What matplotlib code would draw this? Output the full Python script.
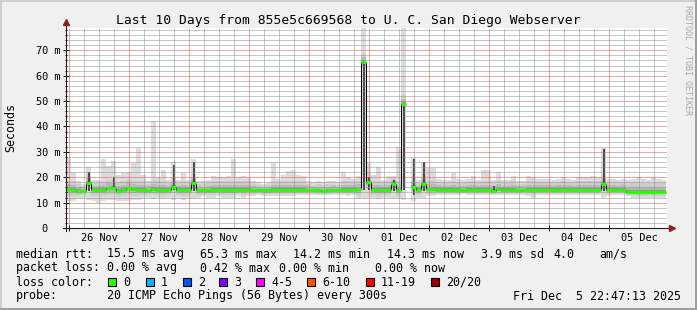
import numpy as np
import matplotlib
matplotlib.use("Agg")
import matplotlib.pyplot as plt
from matplotlib.patches import Rectangle
from matplotlib.transforms import blended_transform_factory

W, H = 697, 310
plt.rcParams["font.family"] = "DejaVu Sans Mono"

# --- data: 2-hour bins from the graph start (25 Nov 22:47) to the end (5 Dec 22:47) ---
BIN_H = 2
first_midnight = 1.22          # hours from graph start to 26 Nov 00:00
day_labels = ["26 Nov", "27 Nov", "28 Nov", "29 Nov", "30 Nov",
              "01 Dec", "02 Dec", "03 Dec", "04 Dec", "05 Dec"]
nan = float("nan")

# smoke top (slowest ping), ms
top = [27.5, 22, 18.5, 17.5, 24, 19, 19, 27, 24.5, 26.5, 21, 22,
       22, 25.5, 31.5, 21, 18.5, 42, 20, 23, 19, 26, 19, 21.5,
       19, 27, 18.5, 18.5, 19, 20.5, 20, 20, 20.5, 27, 20, 20.5,
       20, 18.5, 18, 17.5, 18, 26, 19.5, 21, 22.5, 23, 21, 20.5,
       18.5, 18, 18.5, 18, 18.5, 18.5, 18, 22, 20, 19.5, 20.5, 85,
       25.5, 21, 24, 19, 20.5, 20.5, 32, 85, nan, 27.5, 19, 26,
       23.5, 23.5, 19.5, 19, 19, 21.5, 19.5, 19, 19.5, 20.5, 19, 23,
       23, 19, 22, 19, 19, 20.5, 18.5, 18.5, 20.5, 20, 19.5, 19.5,
       19.5, 19, 19.5, 20, 19.5, 19, 20, 20, 20, 20.5, 20, 31.5,
       19.5, 19.5, 19, 19.5, 19, 19.5, 20, 19.5, 19, 20, 19.5, 19]

# smoke bottom (fastest ping), ms
bot = [10.5, 10.5, 11.5, 12, 11, 10.5, 10, 10.5, 11, 11, 10.5, 10.5,
       10.5, 11, 11, 12, 12, 11.5, 12, 11.5, 12, 11, 12, 11,
       12, 11.5, 12, 12.5, 12, 12, 12.5, 12, 12, 12, 12.5, 12,
       12.5, 12.5, 13, 12.5, 12.5, 12.5, 12.5, 12.5, 12.5, 12.5, 13, 13,
       13, 13, 13, 13, 13, 13, 13, 13, 12.5, 13, 11.5, 12,
       12, 12, 11.5, 12, 12, 11.5, 11.5, 11, nan, 10.5, 12, 12,
       12.5, 12.5, 13, 13, 13, 13, 13, 13.5, 13, 13, 13, 13,
       13, 13, 13, 13, 13, 13, 13, 13, 12.5, 12, 13, 13,
       13, 13, 13, 13, 13, 13, 13, 13, 13, 13, 13, 12,
       12.5, 13, 13, 13, 12.5, 12, 12, 12, 11.8, 12, 12, 12]

# median rtt, ms
med = [15.2, 15.0, 14.6, 14.7, 17.8, 15.0, 15.0, 15.0, 15.6, 15.7, 14.7, 15.0,
       15.6, 15.2, 15.0, 15.0, 15.0, 15.3, 15.0, 15.0, 15.0, 16.3, 15.0, 15.0,
       15.0, 17.7, 15.0, 14.9, 14.9, 14.9, 15.0, 15.0, 15.0, 15.0, 15.0, 15.0,
       15.0, 15.0, 15.0, 14.9, 14.9, 15.0, 15.0, 15.0, 15.0, 15.0, 15.0, 15.0,
       15.0, 15.0, 14.9, 14.6, 14.9, 15.0, 15.0, 15.0, 15.0, 15.0, 15.2, 65.3,
       18.0, 15.0, 15.0, 15.0, 15.0, 17.3, 15.0, 49.0, nan, 16.3, 15.0, 17.3,
       15.2, 15.4, 15.0, 15.0, 15.0, 15.0, 14.9, 14.9, 15.0, 15.0, 15.0, 15.0,
       15.0, 14.6, 15.4, 15.0, 15.0, 15.0, 15.0, 15.0, 15.0, 15.0, 15.0, 15.0,
       15.0, 15.0, 15.0, 15.0, 15.0, 15.0, 15.0, 15.0, 15.0, 15.0, 15.0, 17.3,
       15.0, 15.0, 15.0, 15.0, 14.3, 14.3, 14.3, 14.3, 14.3, 14.3, 14.3, 14.3]

# dense (dark) smoke at the jumps
spike_bin = [4, 9, 21, 25, 59, 60, 65, 67, 69, 71, 85, 107]
spike_lo = [14.5, 15, 15, 14.5, 15, 15, 14.5, 15, 13, 14.5, 14, 14.5]
spike_hi = [22, 20, 25, 26, 65, 20, 19, 49, 27, 26, 16.5, 31]

loss_labels = ["0", "1", "2", "3", "4-5", "6-10", "11-19", "20/20"]
loss_colors = ["#26ff00", "#00b8ff", "#0059ff", "#7e00ff",
               "#ff00ff", "#ff5500", "#ff0000", "#a10000"]

# --- figure ---
fig = plt.figure(figsize=(W / 100, H / 100), dpi=100, facecolor="#f0f0f0")
ax = fig.add_axes([66 / W, 1 - 228 / H, 601 / W, 200 / H])
ax.set_facecolor("white")
ax.set_xlim(0, 240.4)
ax.set_ylim(0, 78.8)
for s in ax.spines.values():
    s.set_visible(False)

med_a = np.array(med, float)
top_a = np.array(top, float)
bot_a = np.array(bot, float)
edges = np.arange(len(med_a)) * BIN_H

# smoke: light outer band, darker towards the median
ax.bar(edges, top_a - bot_a, bottom=bot_a, width=BIN_H, align="edge",
       color="#dcdcdc", linewidth=0, antialiased=False, zorder=1)
cap_top = np.minimum(top_a, med_a + 5)
cap_bot = np.maximum(bot_a, med_a - 3.5)
for f, c in [(0.7, "#cdcdcd"), (0.4, "#b8b8b8"), (0.15, "#959595")]:
    lo = med_a - (med_a - cap_bot) * f
    hi = med_a + (cap_top - med_a) * f
    ax.bar(edges, hi - lo, bottom=lo, width=BIN_H, align="edge",
           color=c, linewidth=0, antialiased=False, zorder=1.1)
sb = np.array(spike_bin) * BIN_H + BIN_H / 2
ax.bar(sb, np.array(spike_hi) - np.array(spike_lo), bottom=spike_lo, width=0.8,
       color="#4a4a4a", linewidth=0, antialiased=False, zorder=1.2)

# median line: black steps, green (no loss) segments
for i in range(1, len(med_a)):
    a, b = med_a[i - 1], med_a[i]
    if np.isfinite(a) and np.isfinite(b) and abs(a - b) > 0.3:
        ax.vlines(edges[i], a, b, color="black", lw=0.72, zorder=3)
ax.hlines(med_a, edges, edges + BIN_H, colors=loss_colors[0], lw=2.2, zorder=4)

# grid
midnights = [first_midnight + 24 * k for k in range(10)]
six_h = [first_midnight + 6 * k for k in range(40) if k % 4]
ax.set_xticks(midnights)
ax.set_xticks(six_h, minor=True)
ax.set_yticks(range(0, 80, 10))
ax.set_yticks([v for v in range(2, 79, 2) if v % 10], minor=True)
ax.set_axisbelow("line")
ax.grid(which="minor", color=(0.56, 0.56, 0.56, 0.3), lw=0.72, ls=(0, (1, 1)))
ax.grid(which="major", color=(0.87, 0.31, 0.31, 0.4), lw=0.72, ls=(0, (1, 1)))
ax.tick_params(which="both", labelbottom=False, labelleft=False, color="#1f1f1f", width=0.72)
ax.tick_params(axis="x", which="major", direction="inout", length=4)
ax.tick_params(axis="x", which="minor", length=0)
ax.tick_params(axis="y", which="major", direction="inout", length=4)
ax.tick_params(axis="y", which="minor", direction="inout", length=2)

# axis lines with arrows
ax.plot([-1.2, 241.6], [0, 0], color="#1f1f1f", lw=0.8, clip_on=False, zorder=5)
ax.plot([0, 0], [-1.2, 80.6], color="#1f1f1f", lw=0.8, clip_on=False, zorder=5)
ax.plot([242.2], [0], marker=">", ms=4.5, color="#8f1f1f", clip_on=False, zorder=6)
ax.plot([0], [81.0], marker="^", ms=4.5, color="#8f1f1f", clip_on=False, zorder=6)

# tick labels
ty = blended_transform_factory(fig.transFigure, ax.transData)
for v in range(0, 80, 10):
    lab = f"{v} m" if v else "0"
    x = 60 if v else 48
    fig.text(x / W, v, lab, transform=ty, ha="right", va="center_baseline", fontsize=7.4)
tx = blended_transform_factory(ax.transData, fig.transFigure)
for k, lab in enumerate(day_labels):
    ax.text(first_midnight + 12 + 24 * k, 1 - 241 / H, lab, transform=tx,
            ha="center", va="baseline", fontsize=7.4)

# titles
fig.text(348 / W, 1 - 24 / H, "Last 10 Days from 855e5c669568 to U. C. San Diego Webserver",
         ha="center", va="baseline", fontsize=9.4)
fig.text(11 / W, 1 - 128 / H, "Seconds", rotation=90, ha="center", va="center", fontsize=8.4)
fig.text(688 / W, 1 - 5 / H, "RRDTOOL / TOBI OETIKER", rotation=270, ha="center", va="top",
         fontsize=6, color="#a8a8a8")

# legend
def txt(x, y, s):
    fig.text(x / W, 1 - y / H, s, ha="left", va="baseline", fontsize=8.4)

txt(16, 257.5, "median rtt:")
for x, s in [(107, "15.5 ms avg"), (200, "65.3 ms max"), (293, "14.2 ms min"),
             (387, "14.3 ms now"), (481, "3.9 ms sd"), (553, "4.0"), (599, "am/s")]:
    txt(x, 257.5, s)
txt(16, 271.5, "packet loss:")
for x, s in [(107, "0.00 % avg"), (200, "0.42 % max"), (279, "0.00 % min"), (375, "0.00 % now")]:
    txt(x, 271.5, s)
txt(16, 285.5, "loss color:")
box_x = [108, 146, 183, 219, 256, 307, 366, 431]
for bx, lab, c in zip(box_x, loss_labels, loss_colors):
    fig.patches.append(Rectangle((bx / W, 1 - 286 / H), 8 / W, 8 / H, transform=fig.transFigure,
                                 facecolor=c, edgecolor="black", lw=0.8))
    txt(bx + 15, 285.5, lab)
txt(16, 299.5, "probe:")
txt(107, 299.5, "20 ICMP Echo Pings (56 Bytes) every 300s")
txt(513, 299.5, "Fri Dec  5 22:47:13 2025")

# 3d frame
for (x, y, w, h, c) in [(0, 0, W, 2, "#cfcfcf"), (0, 0, 2, H, "#cfcfcf"),
                        (0, H - 2, W, 2, "#9e9e9e"), (W - 2, 0, 2, H, "#9e9e9e")]:
    fig.patches.append(Rectangle((x / W, 1 - (y + h) / H), w / W, h / H,
                                 transform=fig.transFigure, facecolor=c, lw=0))

fig.savefig("out.png", dpi=100, facecolor=fig.get_facecolor())
